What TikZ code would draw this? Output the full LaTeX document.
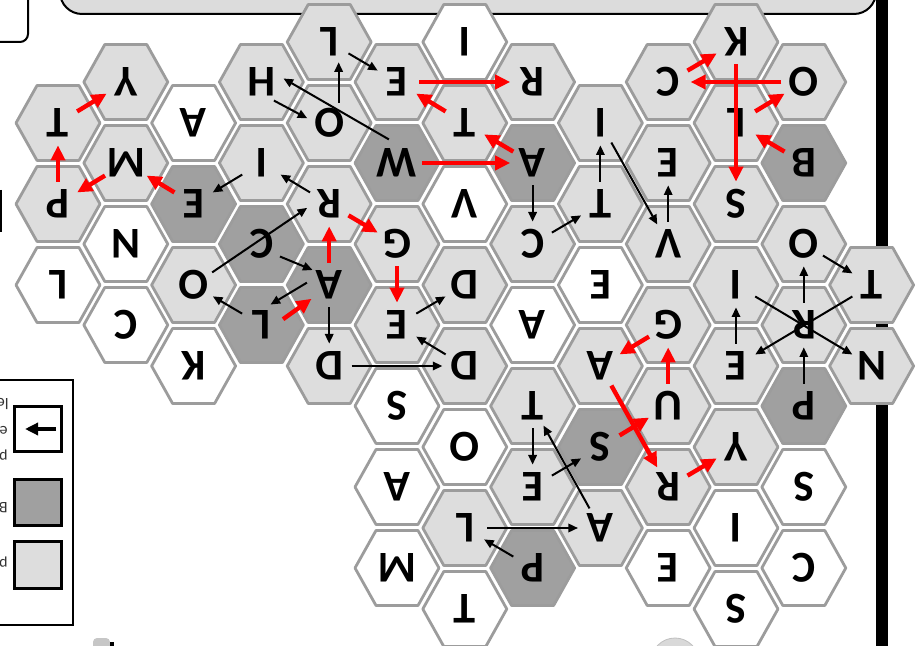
\documentclass[tikz,border=0pt]{standalone}
\usepackage{fontspec}
\setmainfont{Carlito}
\usepackage{graphicx}
\usetikzlibrary{arrows.meta}
\definecolor{hL}{HTML}{DDDDDD}
\definecolor{hD}{HTML}{A0A0A0}
\definecolor{hW}{HTML}{FFFFFF}
\definecolor{hexedge}{HTML}{9C9C9C}
\definecolor{barfill}{HTML}{DCDCDC}
\tikzset{
  hexbox/.style={draw=hexedge, line width=1.4pt, line join=round},
  ltr/.style={circle, minimum size=22pt, inner sep=0pt, text=black,
    font=\bfseries\fontsize{22}{22}\selectfont},
  blk/.style={draw=black, line width=1pt, -{Triangle[length=4.8pt,width=4.2pt]}},
  rarr/.style={draw=red, line width=2.2pt, -{Triangle[length=7.5pt,width=7pt]}},
  frag/.style={inner sep=0pt, font=\fontsize{8}{8}\selectfont, text=black!80},
  framebox/.style={draw=black, line width=1pt}
}
\begin{document}
\begin{tikzpicture}[x=0.5pt,y=-0.5pt]
\useasboundingbox (0,0) rectangle (916,646);
\clip (0,0) rectangle (916,646);
% page furniture
\draw[framebox, fill=barfill, rounded corners=11pt] (60,-30) -- (60,14) -- (876,14) -- (876,-30);
\fill[black] (876,-5) rectangle (888,650);
\draw[framebox, rounded corners=4pt] (-10,42) -- (28,42) -- (28,-10);
\draw[line width=1.2pt] (1,190) -- (1,232);
% legend
\draw[framebox, fill=white] (-10,380) -- (73,380) -- (73,625) -- (-10,625);
\draw[line width=1.5pt, fill=white] (14,407) rectangle (61,452);
\draw[line width=2pt, -{Triangle[length=6.5pt,width=6pt]}] (56,429) -- (25,429);
\draw[line width=1.5pt, fill=hD] (14,480) rectangle (61,526);
\draw[line width=1.5pt, fill=hL] (14,542) rectangle (61,588);
\node[frag, anchor=east] (fa) at (9,404) {\rotatebox[origin=c]{180}{le}};
\node[frag, anchor=east] (fb) at (8,430) {\rotatebox[origin=c]{180}{e}};
\node[frag, anchor=east] (fc) at (8,455) {\rotatebox[origin=c]{180}{p}};
\node[frag, anchor=east] (fd) at (8,508) {\rotatebox[origin=c]{180}{B}};
\node[frag, anchor=east] (fe) at (8,562) {\rotatebox[origin=c]{180}{p}};
% bottom bits
\fill[gray!45, rounded corners=2pt] (93,638) rectangle (110,652);
\fill[black] (110,642) rectangle (114,650);
\draw[fill=gray!30, draw=gray!50] (675,662) circle (24);
% hexagons
\foreach \c/\r/\f/\t in {
  0/1/hL/T, 0/2/hL/P, 0/3/hW/L,
  1/0/hL/Y, 1/1/hL/M, 1/2/hW/N, 1/3/hW/C,
  2/1/hW/A, 2/2/hD/E, 2/3/hL/O, 2/4/hW/K,
  3/0/hL/H, 3/1/hL/I, 3/2/hD/C, 3/3/hD/L,
  4/0/hL/L, 4/1/hL/O, 4/2/hL/R, 4/3/hD/A, 4/4/hL/D,
  5/0/hL/E, 5/1/hD/W, 5/2/hL/G, 5/3/hL/E, 5/4/hW/S, 5/5/hW/A, 5/6/hW/M,
  6/0/hW/I, 6/1/hL/T, 6/2/hW/V, 6/3/hL/D, 6/4/hL/D, 6/5/hW/O, 6/6/hL/L, 6/7/hW/T,
  7/0/hL/R, 7/1/hD/A, 7/2/hL/C, 7/3/hW/A, 7/4/hL/T, 7/5/hL/E, 7/6/hD/P,
  8/1/hL/I, 8/2/hL/T, 8/3/hW/E, 8/4/hL/A, 8/5/hD/S, 8/6/hL/A,
  9/0/hL/C, 9/1/hL/E, 9/2/hL/V, 9/3/hL/G, 9/4/hL/U, 9/5/hL/R, 9/6/hW/E,
  10/0/hL/K, 10/1/hL/L, 10/2/hL/S, 10/3/hL/I, 10/4/hL/E, 10/5/hL/Y, 10/6/hW/I, 10/7/hW/S,
  11/0/hL/O, 11/1/hD/B, 11/2/hL/O, 11/3/hL/R, 11/4/hD/P, 11/5/hW/S, 11/6/hW/C,
  12/3/hL/T, 12/4/hL/N}{
  \pgfmathsetmacro{\hcx}{58+67.8*\c}
  \pgfmathsetmacro{\hcy}{42+40*mod(\c,2)+81*\r}
  \draw[hexbox, fill=\f, shift={(\hcx,\hcy)}] (-42,0) -- (-21,-37.5) -- (21,-37.5) -- (42,0) -- (21,37.5) -- (-21,37.5) -- cycle;
  \node[ltr] (n\c-\r) at (\hcx,\hcy) {\rotatebox[origin=c]{180}{\t}};
}
% black arrows
\draw[blk] (n3-1) -- (n2-2);
\draw[blk] (n3-0.304) -- (n4-1.168);
\draw[blk] (n5-1.109) -- (n3-0.9);
\draw[blk] (n4-1.65) -- (n4-0.295);
\draw[blk] (n4-0) -- (n5-0);
\draw[blk] (n7-1) -- (n7-2);
\draw[blk] (n4-2) -- (n3-1);
\draw[blk] (n2-3) -- (n4-2.190);
\draw[blk] (n3-2.326) -- (n4-3.138);
\draw[blk] (n4-3.174) -- (n3-3.66);
\draw[blk] (n3-3) -- (n2-3);
\draw[blk] (n4-3) -- (n4-4);
\draw[blk] (n4-4) -- (n6-4);
\draw[blk] (n6-4) -- (n5-3);
\draw[blk] (n5-3) -- (n6-3);
\draw[blk] (n7-2) -- (n8-2);
\draw[blk] (n8-2) -- (n8-1);
\draw[blk] (n8-1) -- (n9-2);
\draw[blk] (n9-2) -- (n9-1);
\draw[blk] (n11-2) -- (n12-3);
\draw[blk] (n11-3) -- (n11-2);
\draw[blk] (n10-3) -- (n12-4);
\draw[blk] (n12-3) -- (n10-4);
\draw[blk] (n10-4) -- (n10-3);
\draw[blk] (n11-4) -- (n11-3);
\draw[blk] (n7-4) -- (n7-5);
\draw[blk] (n7-5) -- (n8-5);
\draw[blk] (n8-6) -- (n7-4);
\draw[blk] (n6-6) -- (n8-6);
\draw[blk] (n7-6) -- (n6-6);
% red arrows
\draw[rarr] (n0-1) -- (n1-0);
\draw[rarr] (n0-2) -- (n0-1);
\draw[rarr] (n1-1) -- (n0-2);
\draw[rarr] (n2-2) -- (n1-1);
\draw[rarr] (n5-0) -- (n7-0);
\draw[rarr] (n6-1) -- (n5-0);
\draw[rarr] (n7-1) -- (n6-1);
\draw[rarr] (n5-1) -- (n7-1);
\draw[rarr] (n4-3) -- (n4-2);
\draw[rarr] (n4-2) -- (n5-2);
\draw[rarr] (n5-2) -- (n5-3);
\draw[rarr] (n3-3.15) -- (n4-3.218);
\draw[rarr] (n9-0) -- (n10-0);
\draw[rarr] (n11-0) -- (n9-0);
\draw[rarr] (n10-0) -- (n10-2);
\draw[rarr] (n10-1) -- (n11-0);
\draw[rarr] (n11-1) -- (n10-1);
\draw[rarr] (n9-3) -- (n8-4);
\draw[rarr] (n9-4) -- (n9-3);
\draw[rarr] (n8-4) -- (n9-5);
\draw[rarr] (n8-5) -- (n9-4);
\draw[rarr] (n9-5) -- (n10-5);
\end{tikzpicture}
\end{document}
